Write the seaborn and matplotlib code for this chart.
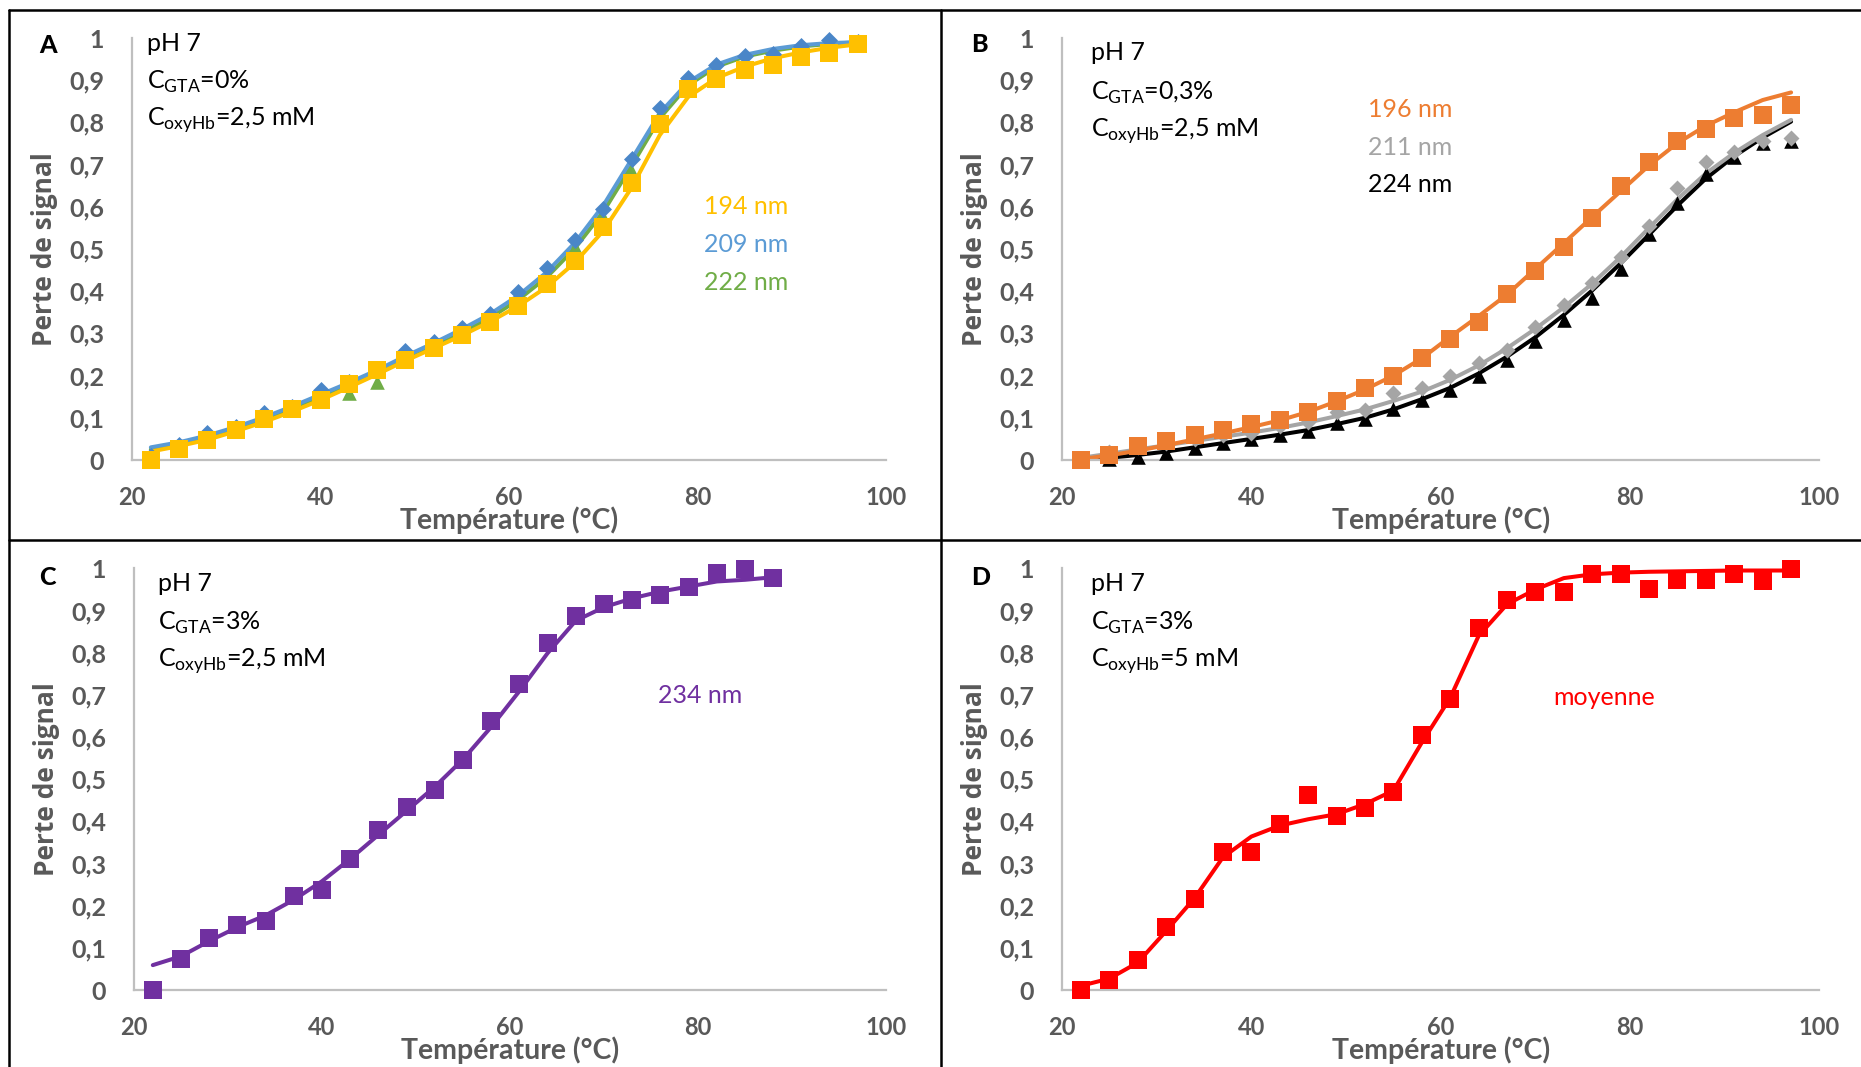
import matplotlib
matplotlib.use("Agg")
import matplotlib.pyplot as plt
from matplotlib.lines import Line2D
import seaborn as sns

# temperatures (°C), one point every 3 degrees
temp = [22, 25, 28, 31, 34, 37, 40, 43, 46, 49, 52, 55, 58, 61, 64, 67, 70, 73, 76, 79, 82, 85, 88, 91, 94, 97]
temp_c = [22, 25, 28, 31, 34, 37, 40, 43, 46, 49, 52, 55, 58, 61, 64, 67, 70, 73, 76, 79, 82, 85, 88]

# panel A : pH 7, GTA 0%, oxyHb 2,5 mM
a_194 = [0.0, 0.027, 0.047, 0.07, 0.096, 0.122, 0.142, 0.181, 0.214, 0.238, 0.266, 0.296, 0.327,
         0.366, 0.416, 0.472, 0.552, 0.656, 0.797, 0.88, 0.902, 0.924, 0.936, 0.955, 0.965, 0.986]
a_209 = [0.01, 0.035, 0.063, 0.078, 0.112, 0.126, 0.165, 0.185, 0.215, 0.258, 0.28, 0.312, 0.347,
         0.397, 0.454, 0.521, 0.594, 0.714, 0.835, 0.905, 0.936, 0.957, 0.963, 0.981, 0.995, 0.99]
a_222 = [0.0, 0.03, 0.05, 0.07, 0.095, 0.118, 0.145, 0.159, 0.185, 0.24, 0.27, 0.30, 0.335,
         0.38, 0.435, 0.505, 0.575, 0.682, 0.82, 0.89, 0.925, 0.945, 0.955, 0.97, 0.985, 0.99]
a_194_fit = [0.02, 0.033, 0.048, 0.068, 0.09, 0.115, 0.142, 0.172, 0.203, 0.235, 0.265, 0.295, 0.328,
             0.365, 0.41, 0.468, 0.543, 0.645, 0.77, 0.86, 0.905, 0.932, 0.952, 0.966, 0.977, 0.985]
a_209_fit = [0.03, 0.042, 0.058, 0.078, 0.101, 0.127, 0.155, 0.183, 0.213, 0.246, 0.277, 0.31, 0.346,
             0.39, 0.445, 0.515, 0.603, 0.712, 0.822, 0.895, 0.937, 0.96, 0.974, 0.983, 0.988, 0.99]
a_222_fit = [0.025, 0.037, 0.052, 0.072, 0.095, 0.12, 0.147, 0.175, 0.205, 0.237, 0.268, 0.301, 0.337,
             0.38, 0.433, 0.502, 0.588, 0.697, 0.81, 0.888, 0.932, 0.956, 0.97, 0.98, 0.986, 0.99]

# panel B : pH 7, GTA 0,3%, oxyHb 2,5 mM
b_196 = [0.0, 0.012, 0.033, 0.045, 0.06, 0.071, 0.086, 0.094, 0.114, 0.14, 0.171, 0.2, 0.241,
         0.287, 0.327, 0.394, 0.447, 0.504, 0.574, 0.649, 0.706, 0.755, 0.784, 0.81, 0.818, 0.841]
b_211 = [0.0, 0.02, 0.03, 0.04, 0.05, 0.06, 0.065, 0.08, 0.09, 0.114, 0.118, 0.159, 0.171,
         0.2, 0.229, 0.261, 0.314, 0.367, 0.419, 0.482, 0.555, 0.645, 0.706, 0.73, 0.755, 0.763]
b_224 = [0.0, 0.003, 0.008, 0.016, 0.029, 0.041, 0.049, 0.06, 0.069, 0.087, 0.098, 0.122, 0.143,
         0.167, 0.2, 0.237, 0.282, 0.331, 0.383, 0.453, 0.535, 0.608, 0.678, 0.718, 0.751, 0.755]
b_196_fit = [0.002, 0.011, 0.022, 0.035, 0.049, 0.063, 0.078, 0.094, 0.114, 0.139, 0.167, 0.2, 0.241,
             0.292, 0.341, 0.392, 0.453, 0.514, 0.576, 0.637, 0.698, 0.751, 0.792, 0.824, 0.853, 0.871]
b_211_fit = [0.005, 0.015, 0.025, 0.035, 0.045, 0.055, 0.065, 0.076, 0.089, 0.104, 0.12, 0.14, 0.162,
             0.19, 0.224, 0.265, 0.311, 0.362, 0.418, 0.481, 0.55, 0.618, 0.679, 0.728, 0.77, 0.806]
b_224_fit = [0.0, 0.005, 0.012, 0.02, 0.03, 0.04, 0.05, 0.06, 0.071, 0.085, 0.1, 0.12, 0.144,
             0.171, 0.205, 0.245, 0.291, 0.344, 0.402, 0.466, 0.534, 0.603, 0.667, 0.72, 0.764, 0.802]

# panel C : pH 7, GTA 3%, oxyHb 2,5 mM
c_234 = [0.0, 0.073, 0.123, 0.153, 0.163, 0.222, 0.238, 0.31, 0.38, 0.433, 0.474, 0.545,
         0.639, 0.725, 0.823, 0.888, 0.916, 0.924, 0.938, 0.955, 0.989, 0.998, 0.977]
c_234_fit = [0.059, 0.08, 0.116, 0.149, 0.177, 0.214, 0.258, 0.311, 0.368, 0.425, 0.482, 0.547,
             0.624, 0.709, 0.799, 0.876, 0.908, 0.929, 0.945, 0.957, 0.969, 0.973, 0.979]

# panel D : pH 7, GTA 3%, oxyHb 5 mM (moyenne)
d_moy = [0.0, 0.024, 0.071, 0.15, 0.216, 0.327, 0.327, 0.394, 0.463, 0.412, 0.431, 0.47, 0.606,
         0.69, 0.858, 0.924, 0.945, 0.945, 0.987, 0.987, 0.951, 0.972, 0.973, 0.987, 0.969, 0.998]
d_moy_fit = [0.01, 0.027, 0.065, 0.14, 0.218, 0.315, 0.364, 0.39, 0.405, 0.417, 0.441, 0.473, 0.587,
             0.693, 0.84, 0.915, 0.95, 0.977, 0.986, 0.99, 0.992, 0.993, 0.994, 0.995, 0.995, 0.995]

y_ticks = [0, 0.1, 0.2, 0.3, 0.4, 0.5, 0.6, 0.7, 0.8, 0.9, 1]
y_tick_labels = ["0", "0,1", "0,2", "0,3", "0,4", "0,5", "0,6", "0,7", "0,8", "0,9", "1"]
x_ticks = [20, 40, 60, 80, 100]

GREY_TXT = "#595959"
AXIS_GREY = "#BFBFBF"

sns.set_style("white")
plt.rcParams['font.family'] = ['Lato', 'DejaVu Sans']
plt.rcParams['mathtext.fontset'] = 'custom'
plt.rcParams['mathtext.rm'] = 'Lato'


def draw_series(ax, x, y, fit, color, marker, size, marker_color=None):
    sns.lineplot(x=x, y=fit, ax=ax, color=color, linewidth=2.9, legend=False, zorder=2)
    sns.scatterplot(x=x, y=y, ax=ax, color=marker_color or color, marker=marker, s=size,
                    linewidth=0, clip_on=False, zorder=3, legend=False)


def style_axes(ax, conditions, cond_x, cond_y):
    ax.set_xlim(20, 100)
    ax.set_ylim(0, 1)
    ax.set_xticks(x_ticks)
    ax.set_xticklabels([str(t) for t in x_ticks], fontsize=17, fontweight='bold', color=GREY_TXT)
    ax.set_yticks(y_ticks)
    ax.set_yticklabels(y_tick_labels, fontsize=18, fontweight='bold', color=GREY_TXT)
    ax.tick_params(axis='both', direction='in', length=6.5, width=1.4, color=AXIS_GREY)
    ax.tick_params(axis='y', pad=20)
    ax.tick_params(axis='x', pad=19)
    for side in ['top', 'right']:
        ax.spines[side].set_visible(False)
    for side in ['left', 'bottom']:
        ax.spines[side].set_color(AXIS_GREY)
        ax.spines[side].set_linewidth(1.6)
    ax.set_xlabel("Température (°C)", fontsize=20.5, fontweight='bold', color=GREY_TXT)
    ax.xaxis.label.set_va('center')
    ax.xaxis.set_label_coords(0.5, -0.142)
    ax.set_ylabel("Perte de signal", fontsize=19, fontweight='bold', color=GREY_TXT,
                  family=['Open Sans', 'DejaVu Sans'])
    ax.yaxis.label.set_va('center')
    ax.yaxis.set_label_coords(-0.116, 0.5)
    for txt, yy in zip(conditions, cond_y):
        ax.text(cond_x, yy, txt, fontsize=18, color='black', va='baseline', ha='left')
    ax.patch.set_alpha(0)


fig = plt.figure(figsize=(18.61, 10.67), dpi=100)
W, H = 1861.0, 1067.0


def make_axes(left, right, top, bottom):
    return fig.add_axes([left / W, 1 - bottom / H, (right - left) / W, (bottom - top) / H])


ax_a = make_axes(132, 886, 38, 460)
ax_b = make_axes(1062, 1819.5, 38, 460)
ax_c = make_axes(134, 886, 568.4, 990)
ax_d = make_axes(1062, 1819.5, 568.4, 990)

# A
draw_series(ax_a, temp, a_222, a_222_fit, "#70AD47", "^", 110)
draw_series(ax_a, temp, a_209, a_209_fit, "#5B9BD5", "D", 75, marker_color="#4A86C8")
draw_series(ax_a, temp, a_194, a_194_fit, "#FFC000", "s", 180)
style_axes(ax_a, ["pH 7", r"C$_{\mathregular{GTA}}$=0%", r"C$_{\mathregular{oxyHb}}$=2,5 mM"],
           21.6, [0.969, 0.879, 0.792])
ax_a.text(80.7, 0.584, "194 nm", color="#FFC000", fontsize=18)
ax_a.text(80.7, 0.494, "209 nm", color="#5B9BD5", fontsize=18)
ax_a.text(80.7, 0.402, "222 nm", color="#70AD47", fontsize=18)

# B
draw_series(ax_b, temp, b_224, b_224_fit, "black", "^", 110)
draw_series(ax_b, temp, b_211, b_211_fit, "#A5A5A5", "D", 66)
draw_series(ax_b, temp, b_196, b_196_fit, "#ED7D31", "s", 180)
style_axes(ax_b, ["pH 7", r"C$_{\mathregular{GTA}}$=0,3%", r"C$_{\mathregular{oxyHb}}$=2,5 mM"],
           23.1, [0.947, 0.853, 0.767])
ax_b.text(52.3, 0.812, "196 nm", color="#ED7D31", fontsize=18)
ax_b.text(52.3, 0.723, "211 nm", color="#A5A5A5", fontsize=18)
ax_b.text(52.3, 0.634, "224 nm", color="black", fontsize=18)

# C
draw_series(ax_c, temp_c, c_234, c_234_fit, "#7030A0", "s", 180)
style_axes(ax_c, ["pH 7", r"C$_{\mathregular{GTA}}$=3%", r"C$_{\mathregular{oxyHb}}$=2,5 mM"],
           22.5, [0.946, 0.855, 0.766])
ax_c.text(75.7, 0.681, "234 nm", color="#7030A0", fontsize=18)

# D
draw_series(ax_d, temp, d_moy, d_moy_fit, "#FF0000", "s", 180)
style_axes(ax_d, ["pH 7", r"C$_{\mathregular{GTA}}$=3%", r"C$_{\mathregular{oxyHb}}$=5 mM"],
           23.1, [0.946, 0.855, 0.766])
ax_d.text(71.9, 0.675, "moyenne", color="#FF0000", fontsize=18)

# panel letters
for letter, lx, ly in [("A", 39, 53), ("B", 971, 52), ("C", 39, 585), ("D", 971, 585)]:
    fig.text(lx / W, 1 - ly / H, letter, fontsize=18, fontweight='black', color='black',
             ha='left', va='baseline')

# black frame around the four panels
frame = dict(color='black', linewidth=1.8, transform=fig.transFigure)
fig.add_artist(Line2D([9 / W, 1], [1 - 10 / H, 1 - 10 / H], **frame))
fig.add_artist(Line2D([9 / W, 9 / W], [0, 1 - 10 / H], **frame))
fig.add_artist(Line2D([941 / W, 941 / W], [0, 1 - 10 / H], **frame))
fig.add_artist(Line2D([9 / W, 1], [1 - 540 / H, 1 - 540 / H], **frame))

fig.savefig("out.png", dpi=100, facecolor='white')
